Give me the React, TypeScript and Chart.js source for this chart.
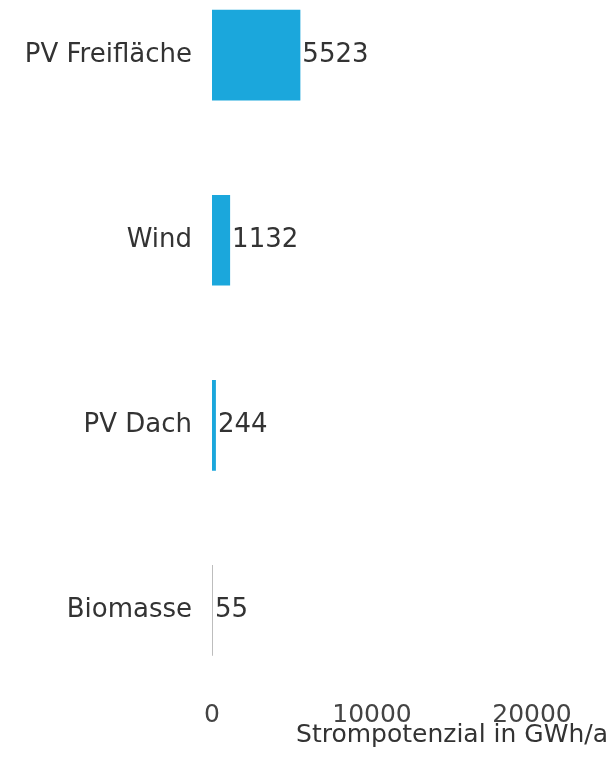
import React, { useEffect, useRef } from "react";
import { Chart, registerables } from "chart.js";

Chart.register(...registerables);

const categories = ["PV Freifläche", "Wind", "PV Dach", "Biomasse"];
const values = [5523, 1132, 244, 55];
const barColors = ["#1ba7dc", "#1ba7dc", "#1ba7dc", "#b4b4b4"];
const xTickMax = 30000;
const xTickStep = 10000;
const axisTitle = "Strompotenzial in GWh/a";

const FONT = "'DejaVu Sans', sans-serif";

const valueLabels = {
  id: "valueLabels",
  afterDatasetsDraw(chart: any) {
    const ctx = chart.ctx;
    const meta = chart.getDatasetMeta(0);
    ctx.save();
    ctx.font = `26px ${FONT}`;
    ctx.fillStyle = "#333333";
    ctx.textAlign = "left";
    ctx.textBaseline = "middle";
    meta.data.forEach((bar: any, i: number) => {
      ctx.fillText(String(values[i]), bar.x + 2, bar.y);
    });
    ctx.restore();
  },
};

export default function App() {
  const ref = useRef<HTMLCanvasElement>(null);
  useEffect(() => {
    if (!ref.current) return;
    const chart = new Chart(ref.current, {
      type: "bar",
      data: {
        labels: categories,
        datasets: [
          {
            data: values,
            backgroundColor: barColors,
            borderWidth: 0,
            categoryPercentage: 1,
            barPercentage: 0.49,
          },
        ],
      },
      options: {
        indexAxis: "y",
        responsive: false,
        maintainAspectRatio: false,
        animation: false,
        layout: { padding: { top: 22, right: 68, bottom: 0, left: 0 } },
        plugins: {
          legend: { display: false },
          tooltip: { enabled: false },
        },
        scales: {
          y: {
            grid: { display: false, drawTicks: false },
            border: { display: false },
            ticks: {
              padding: 20,
              color: "#333333",
              font: { family: FONT, size: 26 },
            },
            afterFit(scale: any) {
              scale.width = 212;
            },
          },
          x: {
            min: 0,
            max: xTickMax,
            grid: { display: false, drawTicks: false },
            border: { display: false },
            ticks: {
              stepSize: xTickStep,
              padding: -3,
              color: "#444444",
              font: { family: FONT, size: 25 },
              callback: (v: any) => String(v),
            },
            title: {
              display: true,
              text: axisTitle,
              color: "#333333",
              padding: { top: 0, bottom: 0 },
              font: { family: FONT, size: 25 },
            },
            afterFit(scale: any) {
              scale.height = 47;
            },
          },
        },
      },
      plugins: [valueLabels],
    });
    return () => chart.destroy();
  }, []);

  return (
    <div
      style={{
        position: "fixed",
        left: 0,
        top: 0,
        width: 613,
        height: 777,
        overflow: "hidden",
        background: "#ffffff",
      }}
    >
      <canvas
        ref={ref}
        width={760}
        height={823}
        style={{ position: "absolute", left: 0, top: -73, width: 760, height: 823 }}
      />
    </div>
  );
}
